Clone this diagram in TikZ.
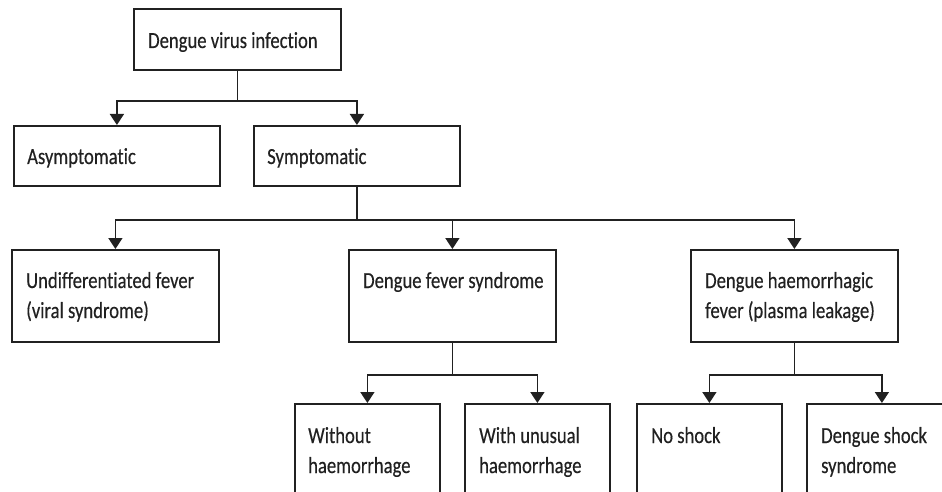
\documentclass[tikz,border=0pt]{standalone}
\usepackage{fontspec}
\setmainfont{Carlito}[FakeStretch=0.81,FakeBold=0.4,Ligatures=NoCommon]
\usetikzlibrary{arrows.meta,calc}
\definecolor{ink}{gray}{0.13}
\tikzset{
  box/.style={draw=ink, line width=1.8pt, rectangle, inner sep=0pt, anchor=north west},
  txt/.style={anchor=base west, inner sep=0pt, text=ink, font=\fontsize{23}{30}\selectfont},
  conn/.style={draw=ink, line width=1.6pt},
  arr/.style={conn, -{Triangle[width=14pt,length=11pt]}},
}
\newcommand{\lines}[1]{\begin{tabular}[t]{@{}l@{}}#1\end{tabular}}
\begin{document}
\begin{tikzpicture}[x=1pt,y=-1pt]
\useasboundingbox (0,0) rectangle (942,492);
\clip (0,0) rectangle (942,492);
% boxes
\node[box, minimum width=207pt, minimum height=61pt] (top) at (133,8) {};
\node[box, minimum width=206pt, minimum height=60pt] (asym) at (13,125) {};
\node[box, minimum width=206pt, minimum height=60pt] (sym) at (253,125) {};
\node[box, minimum width=207pt, minimum height=92pt] (undiff) at (11,249) {};
\node[box, minimum width=207pt, minimum height=92pt] (dfs) at (348,249) {};
\node[box, minimum width=207pt, minimum height=92pt] (dhf) at (690,249) {};
\node[box, minimum width=145pt, minimum height=120pt] (without) at (294,403) {};
\node[box, minimum width=145pt, minimum height=120pt] (withun) at (464,403) {};
\node[box, minimum width=145pt, minimum height=120pt] (noshock) at (636,403) {};
\node[box, minimum width=150pt, minimum height=120pt] (dss) at (806,403) {};
% texts
\node[txt] (top-t) at ($(top.north west)+(15,40)$) {Dengue virus infection};
\node[txt] (asym-t) at ($(asym.north west)+(14,39)$) {Asymptomatic};
\node[txt] (sym-t) at ($(sym.north west)+(14,39)$) {Symptomatic};
\node[txt] (undiff-t) at ($(undiff.north west)+(15,39)$) {\lines{Undifferentiated fever\\(viral syndrome)}};
\node[txt] (dfs-t) at ($(dfs.north west)+(15,39)$) {Dengue fever syndrome};
\node[txt] (dhf-t) at ($(dhf.north west)+(15,39)$) {\lines{Dengue haemorrhagic\\fever (plasma leakage)}};
\node[txt] (without-t) at ($(without.north west)+(14,40)$) {\lines{Without\\haemorrhage}};
\node[txt] (withun-t) at ($(withun.north west)+(15,40)$) {\lines{With unusual\\haemorrhage}};
\node[txt] (noshock-t) at ($(noshock.north west)+(15,40)$) {No shock};
\node[txt] (dss-t) at ($(dss.north west)+(15,40)$) {\lines{Dengue shock\\syndrome}};
% connectors
\coordinate (j1) at ($(top.south)+(0,30)$);
\draw[conn] (top.south) -- (j1);
\draw[arr] (j1) -| (asym.north);
\draw[arr] (j1) -| (sym.north);
\coordinate (j2) at ($(sym.south)+(0,33)$);
\draw[conn] (sym.south) -- (j2);
\draw[arr] (j2) -| (undiff.north);
\draw[arr] (j2) -| (dfs.north);
\draw[arr] (j2) -| (dhf.north);
\coordinate (j3) at ($(dfs.south)+(0,32)$);
\draw[conn] (dfs.south) -- (j3);
\draw[arr] (j3) -| (without.north);
\draw[arr] (j3) -| (withun.north);
\coordinate (j4) at ($(dhf.south)+(0,32)$);
\draw[conn] (dhf.south) -- (j4);
\draw[arr] (j4) -| (noshock.north);
\draw[arr] (j4) -| (dss.north);
\end{tikzpicture}
\end{document}
